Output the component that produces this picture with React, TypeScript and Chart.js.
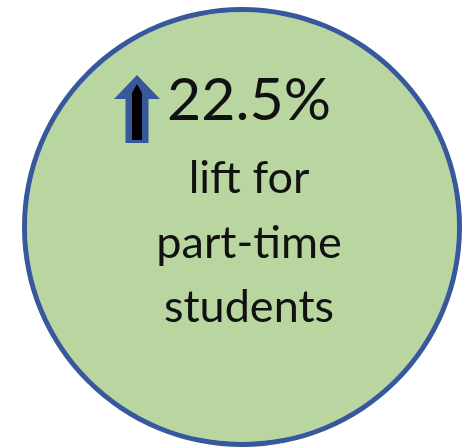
import React, { useEffect, useRef } from "react";
import { Chart, registerables } from "chart.js";

Chart.register(...registerables);

const categories = ["part-time students"];
const seriesValues = [100];
const headline = "22.5%";
const captionLines = ["lift for", "part-time", "students"];

const FILL = "#b9d6a0";
const BLUE = "#37599b";
const FONT = "Lato, 'Open Sans', sans-serif";

const centerTextPlugin = {
  id: "centerText",
  afterDatasetsDraw(chart: any) {
    const meta = chart.getDatasetMeta(1);
    const arc = meta.data[0];
    if (!arc) return;
    const cx = arc.x;
    const cy = arc.y;
    const ctx = chart.ctx;
    ctx.save();
    ctx.fillStyle = "#111";
    ctx.textAlign = "center";
    ctx.textBaseline = "alphabetic";
    ctx.font = `59px ${FONT}`;
    ctx.fillText(headline, cx + 7, cy - 107);
    ctx.font = `45px ${FONT}`;
    const baseline0 = cy - 34;
    captionLines.forEach((line, i) => {
      ctx.fillText(line, cx + 7, baseline0 + i * 64.5);
    });

    // up arrow
    const ax = cx - 105;
    const ay = cy;
    ctx.fillStyle = BLUE;
    ctx.beginPath();
    ctx.moveTo(ax, ay - 152);
    ctx.lineTo(ax + 23, ay - 128);
    ctx.lineTo(ax + 11.5, ay - 128);
    ctx.lineTo(ax + 11.5, ay - 84);
    ctx.lineTo(ax - 11.5, ay - 84);
    ctx.lineTo(ax - 11.5, ay - 128);
    ctx.lineTo(ax - 23, ay - 128);
    ctx.closePath();
    ctx.fill();
    ctx.fillStyle = "#000";
    ctx.beginPath();
    ctx.moveTo(ax, ay - 143);
    ctx.lineTo(ax + 5, ay - 134);
    ctx.lineTo(ax + 5, ay - 87);
    ctx.lineTo(ax - 5, ay - 87);
    ctx.lineTo(ax - 5, ay - 134);
    ctx.closePath();
    ctx.fill();
    ctx.restore();
  },
};

export default function App() {
  const ref = useRef<HTMLCanvasElement | null>(null);
  useEffect(() => {
    if (!ref.current) return;
    const chart = new Chart(ref.current, {
      type: "pie",
      data: {
        labels: categories,
        datasets: [
          {
            data: seriesValues,
            backgroundColor: [BLUE],
            borderWidth: 0,
            radius: 220,
            cutout: 0,
            weight: 5,
            hoverOffset: 0,
          } as any,
          {
            data: seriesValues,
            backgroundColor: [FILL],
            borderWidth: 0,
            radius: 220,
            cutout: 0,
            weight: 215,
            hoverOffset: 0,
          } as any,
        ],
      },
      options: {
        responsive: false,
        animation: false,
        events: [],
        layout: { padding: { left: 10, right: 0, top: 6, bottom: 0 } },
        plugins: {
          legend: { display: false },
          tooltip: { enabled: false },
          title: { display: false },
        },
      },
      plugins: [centerTextPlugin],
    });
    return () => chart.destroy();
  }, []);
  return (
    <div style={{ position: "absolute", left: 0, top: 0, width: 474, height: 448, background: "#fff" }}>
      <canvas ref={ref} width={474} height={448} />
    </div>
  );
}
